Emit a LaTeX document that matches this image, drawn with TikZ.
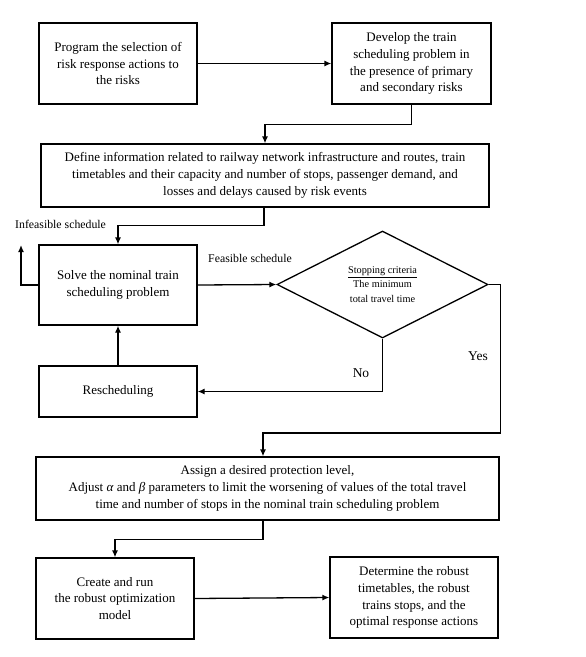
\documentclass[tikz,border=0pt]{standalone}
\usepackage{fontspec}
\setmainfont{Liberation Serif}
\usetikzlibrary{shapes.geometric,arrows.meta}
\begin{document}
\begin{tikzpicture}[x=1pt,y=-1pt,
  box/.style={draw,line width=1.3pt,align=center,inner sep=2pt,font=\fontsize{13}{16.8}\selectfont},
  lbl/.style={font=\fontsize{11.8}{13}\selectfont,inner sep=0pt},
  arr/.style={line width=1.3pt,-{Latex[length=7pt,width=6pt]}}]
\useasboundingbox (0,0) rectangle (586,657);
\fill[white] (0,0) rectangle (586,657);
\node[box,minimum width=158pt,minimum height=81pt] (b1) at (118,63.5) {Program the selection of\\risk response actions to\\the risks};
\node[box,minimum width=159pt,minimum height=81pt] (b2) at (411.5,63.5) {Develop the train\\scheduling problem in\\the presence of primary\\and secondary risks};
\node[box,minimum width=448pt,minimum height=63pt] (b3) at (265,175.5) {Define information related to railway network infrastructure and routes, train\\timetables and their capacity and number of stops, passenger demand, and\\losses and delays caused by risk events};
\node[box,minimum width=158pt,minimum height=80pt] (b4) at (118,285) {Solve the nominal train\\scheduling problem};
\node[draw,line width=1.3pt,diamond,aspect=2,minimum width=211pt,minimum height=107pt,inner sep=0pt,align=center,font=\fontsize{10.3}{14.5}\selectfont] (d) at (382.5,284.5) {\underline{Stopping criteria}\\The minimum\\total travel time};
\node[box,minimum width=158pt,minimum height=51pt] (b5) at (118,391.5) {Rescheduling};
\node[box,minimum width=463pt,minimum height=63pt] (b6) at (267.5,488.5) {Assign a desired protection level,\\Adjust \textit{α} and \textit{β} parameters to limit the worsening of values of the total travel\\time and number of stops in the nominal train scheduling problem};
\node[box,minimum width=158pt,minimum height=81pt] (b7) at (115,598.5) {Create and run\\the robust optimization\\model};
\node[box,minimum width=168pt,minimum height=81pt] (b8) at (414,597.5) {Determine the robust\\timetables, the robust\\trains stops, and the\\optimal response actions};
\coordinate (inf) at (21,245);
\node[lbl,anchor=base west] (linf) at (15,228) {Infeasible schedule};
\node[lbl,anchor=base] (lfeas) at (250,262) {Feasible schedule};
\node[lbl,font=\fontsize{13.5}{15}\selectfont,anchor=base] (lno) at (361,377) {No};
\node[lbl,font=\fontsize{13.5}{15}\selectfont,anchor=base] (lyes) at (478,360) {Yes};
\draw[arr] (b1.east) -- (b2.west);
\draw[arr] (b2.south) -- ++(0,20) -| (b3.north);
\draw[arr] ([xshift=-1pt]b3.south) -- ++(0,18) -| (b4.north);
\draw[arr] (b4.west) -| (inf);
\draw[arr] (b4.east) -- (d.west);
\draw[arr] (d.south) |- (b5.east);
\draw[arr] (b5.north) -- (b4.south);
\draw[arr] (d.east) -- ++(12,0) |- (263,433) -- ([xshift=-4.5pt]b6.north);
\draw[arr] ([xshift=-4.5pt]b6.south) -- ++(0,19) -| (b7.north);
\draw[arr] (b7.east) -- (b8.west);
\end{tikzpicture}
\end{document}
